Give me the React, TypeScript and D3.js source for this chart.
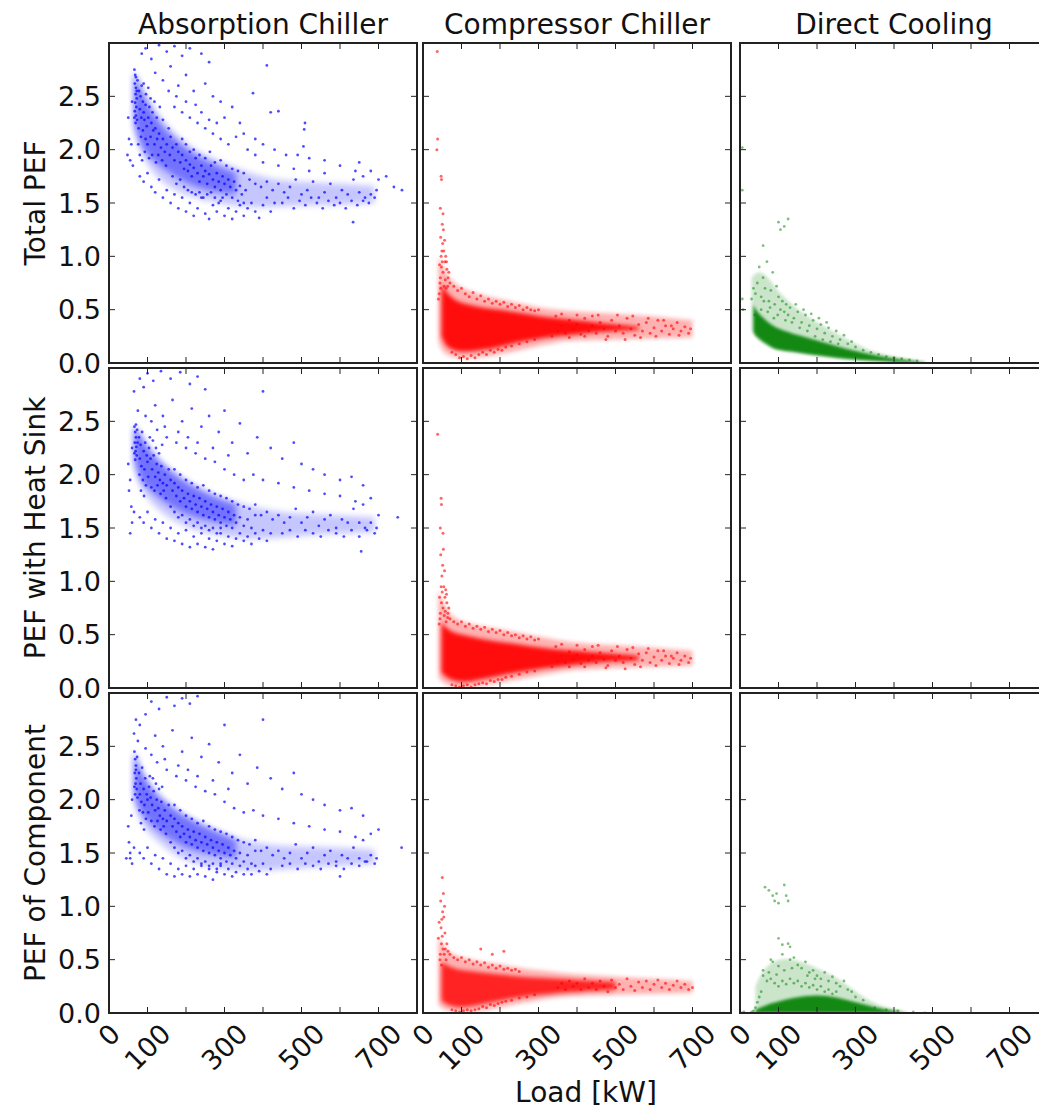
import React from "react";
import * as d3 from "d3";

// ---------- labels ----------
const colTitles = ["Absorption Chiller", "Compressor Chiller", "Direct Cooling"];
const rowLabels = ["Total PEF", "PEF with Heat Sink", "PEF of Component"];
const xTickValues = [100, 200, 300, 400, 500, 600, 700];
const xTickLabels = [0, 100, 300, 500, 700];
const yTickValues = [0.5, 1.0, 1.5, 2.0, 2.5];
const yTickLabels = [0, 0.5, 1.0, 1.5, 2.0, 2.5];
const xDomain = [0, 800];
const yDomain = [0, 3];
const xAxisLabel = "Load [kW]";

// ---------- Absorption chiller (blue) ----------
const absTotal: [number, number][] = [
  [66,2.75],[68,2.7],[67,2.62],[70,2.58],[69,2.52],[72,2.48],[68,2.44],[71,2.4],[67,2.36],[70,2.32],[73,2.28],[69,2.25],[66,2.3],[72,2.55],[74,2.65],[70,2.68],
  [78,2.55],[82,2.5],[85,2.6],[88,2.45],[80,2.38],[90,2.35],[95,2.42],[84,2.3],[92,2.28],[98,2.22],[102,2.3],[105,2.4],[110,2.25],[115,2.18],[108,2.12],[120,2.2],[125,2.1],[118,2.05],[130,2.15],[135,2.02],[140,2.1],[145,1.98],[150,2.05],[88,2.18],[95,2.1],[100,2.05],[83,2.12],[77,2.2],[76,2.05],[80,1.95],[86,1.9],[93,1.98],[104,1.92],[112,1.95],[122,1.88],[128,1.95],[138,1.9],[148,1.85],[113,2.35],[118,2.45],[124,2.3],[96,2.52],[102,2.58],[90,2.62],[108,2.48],[132,2.4],[140,2.28],[155,2.2],[160,2.12],[165,2.02],[158,1.95],[170,1.9],[175,2.05],[180,1.98],[185,1.88],[190,1.95],[195,1.82],[200,1.9],[205,1.8],[210,1.86],[215,1.75],[220,1.83],[225,1.92],[230,1.78],[235,1.7],[240,1.85],[245,1.75],[250,1.8],[255,1.68],[260,1.77],[265,1.85],[270,1.72],[275,1.65],[280,1.78],[285,1.7],[290,1.62],[295,1.75],[300,1.68],[305,1.58],[310,1.72],[315,1.65],[320,1.55],[325,1.7],[330,1.62],[335,1.52],[340,1.66],[345,1.58],[350,1.5],[355,1.62],
  [80,1.75],[90,1.7],[100,1.78],[110,1.65],[120,1.6],[130,1.72],[140,1.55],[150,1.62],[160,1.5],[170,1.58],[180,1.45],[190,1.55],[200,1.42],[210,1.5],[220,1.38],[230,1.45],[240,1.55],[250,1.4],[260,1.35],[270,1.48],[280,1.42],[290,1.52],[300,1.38],[310,1.45],[320,1.35],[330,1.42],[340,1.48],[350,1.38],[360,1.45],[370,1.5],[380,1.42],[390,1.36],[400,1.48],[410,1.55],[420,1.42],[430,1.5],
  [165,1.75],[175,1.68],[185,1.72],[195,1.65],[205,1.62],[215,1.6],[225,1.58],[235,1.6],[245,1.55],[255,1.58],[265,1.6],[275,1.55],[285,1.5],[295,1.55],[190,2.1],[200,2.05],[210,1.98],[220,2.0],[235,1.95],[250,1.92],[262,1.98],[275,1.88],[290,1.9],[305,1.85],[320,1.82],[335,1.8],[350,1.78],[365,1.72],[380,1.68],[395,1.65],[410,1.7],[425,1.62],[440,1.68],[455,1.6],[470,1.65],[485,1.72],[500,1.58],[515,1.62],[530,1.7],[545,1.55],[560,1.6],[575,1.68],[590,1.55],[605,1.62],[620,1.58],[635,1.72],[650,1.6],[665,1.55],[680,1.58],[695,1.62],[450,1.5],[465,1.55],[480,1.45],[495,1.52],[510,1.48],[525,1.55],[540,1.5],[555,1.45],[570,1.52],[585,1.48],[600,1.5],[615,1.45],[630,1.52],[645,1.48],[660,1.52],[675,1.5],[690,1.55],[634,1.32],[660,1.75],[680,1.8],[640,1.8],[700,1.72],[720,1.75],[740,1.65],[761,1.62],[560,1.78],[520,1.8],[480,1.82],[440,1.85],[400,1.88],[380,1.95],[360,2.0],
  [85,2.9],[95,2.95],[110,2.85],[130,2.98],[150,2.92],[170,2.97],[190,2.88],[210,2.95],[240,2.9],[120,2.72],[140,2.65],[160,2.78],[180,2.6],[200,2.7],[220,2.55],[250,2.62],[270,2.5],[290,2.45],[260,2.82],[300,2.3],[320,2.4],[340,2.25],[374,2.53],[410,2.79],[420,2.35],[440,2.36],[507,2.19],[509,2.25],[505,2.03],[330,2.12],[350,2.15],[380,2.1],[400,2.05],[430,2.0],[460,1.95],[490,1.95],[520,1.92],[560,1.9],[600,1.85],[650,1.88],[170,2.4],[190,2.35],[210,2.3],[230,2.25],[250,2.2],[270,2.15],[290,2.1],[310,2.05],[155,2.55],[175,2.5],[200,2.45],[225,2.42],[240,2.35],[260,2.28],[280,2.25],
  [50,2.3],[52,2.1],[48,1.95],[55,1.9],[58,2.05],[60,2.45],[62,1.85],
];
const absHeat: [number, number][] = [
  [66,2.45],[68,2.4],[70,2.35],[67,2.3],[71,2.26],[69,2.22],[72,2.18],[68,2.14],[73,2.42],[70,2.47],[66,2.2],[74,2.3],
  [78,2.35],[82,2.28],[86,2.4],[90,2.22],[80,2.15],[94,2.3],[98,2.18],[84,2.08],[92,2.05],[100,2.12],[104,2.25],[108,2.15],[112,2.05],[116,2.18],[120,1.98],[124,2.1],[128,2.02],[132,1.95],[136,2.08],[140,1.92],[145,2.0],[150,1.9],[88,1.95],[96,1.9],[102,1.98],[110,1.88],[118,1.85],[126,1.9],[134,1.82],[142,1.85],[148,1.78],[79,2.0],[83,1.85],[91,1.8],[106,2.35],[114,2.32],[122,2.25],[130,2.2],[138,2.28],[155,2.05],[160,1.95],[165,1.85],[170,1.92],[175,1.8],[180,1.88],[185,1.75],[190,1.85],[195,1.78],[200,1.7],[205,1.82],[210,1.75],[215,1.68],[220,1.8],[225,1.72],[230,1.65],[235,1.78],[240,1.7],[245,1.62],[250,1.75],[255,1.68],[260,1.6],[265,1.72],[270,1.65],[275,1.58],[280,1.7],[285,1.62],[290,1.55],[295,1.68],[300,1.6],[305,1.52],[310,1.65],[315,1.58],[320,1.5],[325,1.62],[330,1.55],[340,1.6],[350,1.52],[360,1.58],[370,1.5],[380,1.62],
  [55,1.45],[60,1.55],[65,1.65],[80,1.6],[90,1.55],[100,1.65],[110,1.5],[120,1.58],[130,1.45],[140,1.55],[150,1.4],[160,1.5],[170,1.38],[180,1.45],[190,1.35],[200,1.48],[210,1.32],[220,1.42],[230,1.35],[240,1.45],[250,1.32],[260,1.4],[270,1.3],[280,1.38],[290,1.45],[300,1.35],[310,1.42],[320,1.33],[330,1.4],[340,1.45],[350,1.38],[360,1.42],[370,1.35],[380,1.45],[390,1.4],[400,1.48],[410,1.38],[420,1.45],
  [160,1.7],[170,1.65],[180,1.6],[190,1.62],[200,1.55],[210,1.58],[220,1.52],[230,1.55],[240,1.5],[250,1.52],[260,1.48],[270,1.5],[280,1.45],[290,1.5],[170,2.05],[185,2.0],[200,1.95],[215,1.92],[230,1.88],[245,1.9],[260,1.85],[275,1.82],[290,1.8],[305,1.78],[320,1.75],[335,1.72],[350,1.7],[365,1.68],[380,1.72],[395,1.62],[410,1.65],[425,1.58],[440,1.62],[455,1.55],[470,1.6],[485,1.68],[500,1.55],[515,1.6],[530,1.65],[545,1.52],[560,1.58],[575,1.62],[590,1.5],[605,1.58],[620,1.55],[635,1.68],[650,1.55],[665,1.5],[680,1.55],[695,1.5],[450,1.45],[470,1.48],[490,1.42],[510,1.48],[530,1.45],[550,1.42],[570,1.48],[590,1.45],[610,1.42],[630,1.48],[650,1.42],[670,1.48],[690,1.45],[655,1.28],[640,1.75],[660,1.72],[680,1.78],[700,1.62],[750,1.6],[600,1.8],[560,1.82],[520,1.85],[480,1.88],[440,1.92],[400,1.95],[375,2.0],
  [80,2.9],[90,2.82],[100,2.95],[115,2.88],[135,2.97],[160,2.9],[185,2.96],[210,2.85],[230,2.92],[250,2.8],[120,2.65],[140,2.55],[165,2.7],[190,2.5],[215,2.62],[240,2.45],[260,2.55],[285,2.4],[300,2.6],[320,2.3],[340,2.48],[360,2.2],[385,2.35],[400,2.78],[420,2.25],[450,2.15],[480,2.3],[500,2.1],[530,2.05],[560,2.0],[600,1.95],[630,1.98],[660,1.9],[150,2.35],[175,2.3],[200,2.25],[225,2.2],[250,2.15],[275,2.12],[300,2.05],[325,2.0],[350,1.95],[65,2.78],[75,2.6],[95,2.55],[110,2.5],[125,2.42],[145,2.45],[180,2.4],[205,2.35],[230,2.3],[270,2.25],[310,2.18],
  [50,2.1],[52,1.85],[55,1.95],[58,1.7],[60,2.25],
];
const absComp: [number, number][] = [
  [66,2.45],[68,2.38],[70,2.32],[67,2.25],[71,2.2],[69,2.15],[72,2.1],[68,2.05],[73,2.4],[70,2.28],[66,2.12],[74,2.02],
  [78,2.25],[82,2.15],[86,2.3],[90,2.1],[80,2.05],[94,2.2],[98,2.05],[84,1.98],[92,1.95],[100,2.0],[104,2.12],[108,2.02],[112,1.95],[116,2.08],[120,1.9],[124,2.0],[128,1.92],[132,1.85],[136,1.98],[140,1.82],[145,1.9],[150,1.8],[88,1.88],[96,1.82],[102,1.88],[110,1.8],[118,1.75],[126,1.8],[134,1.72],[142,1.75],[148,1.68],[79,1.9],[83,1.78],[91,1.72],[106,2.22],[114,2.2],[122,2.15],[130,2.1],[138,2.12],[155,1.95],[160,1.85],[165,1.75],[170,1.82],[175,1.7],[180,1.78],[185,1.65],[190,1.75],[195,1.68],[200,1.6],[205,1.72],[210,1.65],[215,1.58],[220,1.7],[225,1.62],[230,1.55],[235,1.68],[240,1.6],[245,1.52],[250,1.65],[255,1.58],[260,1.5],[265,1.62],[270,1.55],[275,1.48],[280,1.6],[285,1.52],[290,1.45],[295,1.58],[300,1.5],[305,1.42],[310,1.55],[315,1.48],[320,1.4],[325,1.52],[330,1.45],[340,1.5],[350,1.42],[360,1.48],[370,1.4],[380,1.52],
  [55,1.45],[60,1.4],[65,1.55],[80,1.5],[90,1.45],[100,1.55],[110,1.4],[120,1.48],[130,1.35],[140,1.45],[150,1.3],[160,1.4],[170,1.28],[180,1.35],[190,1.3],[200,1.38],[210,1.28],[220,1.35],[230,1.3],[240,1.38],[250,1.28],[260,1.35],[270,1.25],[280,1.32],[290,1.38],[300,1.3],[310,1.35],[320,1.28],[330,1.32],[340,1.38],[350,1.3],[360,1.35],[370,1.3],[380,1.38],[390,1.33],[400,1.4],[410,1.3],[420,1.35],
  [160,1.6],[170,1.55],[180,1.5],[190,1.52],[200,1.45],[210,1.48],[220,1.42],[230,1.45],[240,1.4],[250,1.42],[260,1.38],[270,1.4],[280,1.35],[290,1.4],[170,1.95],[185,1.9],[200,1.85],[215,1.82],[230,1.78],[245,1.8],[260,1.75],[275,1.72],[290,1.7],[305,1.68],[320,1.65],[335,1.62],[350,1.6],[365,1.58],[380,1.62],[395,1.52],[410,1.55],[425,1.48],[440,1.52],[455,1.45],[470,1.5],[485,1.58],[500,1.45],[515,1.5],[530,1.55],[545,1.42],[560,1.48],[575,1.52],[590,1.42],[605,1.48],[620,1.45],[635,1.55],[650,1.45],[665,1.42],[680,1.48],[695,1.45],[450,1.38],[470,1.4],[490,1.35],[510,1.4],[530,1.38],[550,1.35],[570,1.4],[590,1.38],[610,1.35],[630,1.4],[650,1.38],[670,1.42],[690,1.4],[600,1.28],[640,1.65],[660,1.62],[680,1.68],[700,1.72],[760,1.55],[600,1.7],[560,1.72],[520,1.75],[480,1.78],[440,1.82],[400,1.85],[375,1.9],
  [70,2.75],[80,2.7],[95,2.8],[110,2.92],[130,2.85],[150,2.96],[170,2.88],[190,2.95],[210,2.9],[230,2.97],[120,2.6],[140,2.5],[165,2.65],[190,2.45],[215,2.58],[240,2.4],[260,2.52],[285,2.35],[300,2.7],[320,2.25],[340,2.42],[360,2.15],[385,2.3],[400,2.75],[420,2.2],[450,2.1],[480,2.25],[500,2.05],[530,2.0],[560,1.95],[600,1.9],[630,1.92],[660,1.85],[150,2.28],[175,2.22],[200,2.18],[225,2.12],[250,2.08],[275,2.05],[300,1.98],[325,1.92],[350,1.88],[65,2.62],[75,2.55],[95,2.48],[110,2.42],[125,2.35],[145,2.38],[180,2.32],[205,2.28],[230,2.22],[270,2.18],[310,2.1],
  [50,1.75],[52,1.6],[55,1.5],[58,1.85],[60,2.0],[45,1.45],
];

// ---------- Compressor chiller (red) ----------
const compTotal: [number, number][] = [
  [45,0.8],[48,0.9],[50,0.95],[52,0.85],[47,1.0],[49,1.05],[51,1.12],[46,1.18],[53,1.25],[50,1.3],[44,0.75],[55,0.72],[58,0.78],[60,0.7],[48,1.72],[47,1.75],[45,1.45],[52,1.4],[38,2.1],[36,2.0],[37,2.92],[42,0.65],[40,0.6],[62,0.88],[65,0.8],[57,0.95],[54,1.05],[56,1.15],[43,0.92],[59,1.0],[61,0.95],[46,0.7],[64,0.72],[67,0.85],
  [70,0.75],[80,0.72],[90,0.68],[100,0.7],[110,0.65],[120,0.62],[130,0.66],[140,0.6],[150,0.63],[160,0.58],[170,0.6],[180,0.56],[190,0.58],[200,0.55],[210,0.57],[220,0.53],[230,0.55],[240,0.52],[250,0.54],[260,0.5],[270,0.52],[280,0.5],[290,0.49],[300,0.5],[75,0.1],[85,0.08],[95,0.05],[105,0.06],[115,0.04],[125,0.07],[135,0.05],[145,0.08],[155,0.1],[165,0.08],[175,0.12],[185,0.1],[195,0.13],[205,0.12],[215,0.15],[230,0.16],[250,0.18],[270,0.2],[290,0.22],
  [350,0.3],[360,0.35],[370,0.28],[380,0.4],[390,0.32],[400,0.36],[410,0.27],[420,0.42],[430,0.3],[440,0.35],[450,0.28],[460,0.38],[470,0.32],[480,0.25],[490,0.4],[500,0.3],[510,0.35],[520,0.28],[530,0.42],[540,0.32],[550,0.26],[560,0.36],[570,0.3],[580,0.38],[590,0.28],[600,0.33],[610,0.4],[620,0.3],[630,0.35],[640,0.27],[650,0.32],[660,0.38],[670,0.3],[680,0.34],[690,0.28],[695,0.32],[455,0.45],[475,0.22],[505,0.45],[525,0.22],[545,0.44],[565,0.24],[585,0.42],[605,0.25],[625,0.4],[645,0.35],[665,0.26],[400,0.45],[420,0.25],[440,0.44],[360,0.46],[380,0.24],[345,0.44],[335,0.25],
];
const compHeat: [number, number][] = [
  [45,0.7],[48,0.8],[50,0.9],[52,0.75],[47,0.95],[49,1.05],[51,1.15],[46,1.25],[53,1.3],[44,0.65],[55,0.68],[58,0.72],[60,0.62],[48,1.72],[47,1.78],[45,1.5],[52,1.45],[38,2.38],[42,0.6],[62,0.8],[65,0.7],[57,0.85],[54,0.95],[56,1.1],[43,0.85],[59,0.92],[61,0.88],[64,0.66],[67,0.75],
  [70,0.65],[80,0.62],[90,0.6],[100,0.62],[110,0.58],[120,0.6],[130,0.56],[140,0.58],[150,0.55],[160,0.57],[170,0.53],[180,0.55],[190,0.52],[200,0.54],[210,0.5],[220,0.52],[230,0.49],[240,0.5],[250,0.47],[260,0.49],[270,0.46],[280,0.48],[290,0.45],[300,0.46],[75,0.03],[85,0.02],[95,0.01],[105,0.02],[115,0.03],[125,0.01],[135,0.03],[145,0.04],[155,0.05],[165,0.04],[175,0.07],[185,0.06],[195,0.08],[205,0.08],[215,0.1],[230,0.11],[250,0.13],[270,0.15],[290,0.16],
  [350,0.25],[360,0.3],[370,0.24],[380,0.34],[390,0.27],[400,0.31],[410,0.23],[420,0.36],[430,0.26],[440,0.3],[450,0.24],[460,0.33],[470,0.27],[480,0.21],[490,0.35],[500,0.26],[510,0.3],[520,0.24],[530,0.36],[540,0.28],[550,0.22],[560,0.32],[570,0.26],[580,0.33],[590,0.24],[600,0.29],[610,0.35],[620,0.26],[630,0.3],[640,0.23],[650,0.28],[660,0.33],[670,0.26],[680,0.3],[690,0.24],[695,0.28],[455,0.4],[475,0.19],[505,0.39],[525,0.18],[545,0.38],[565,0.2],[585,0.37],[605,0.21],[625,0.35],[645,0.3],[665,0.22],[400,0.4],[420,0.2],[440,0.39],[360,0.41],[380,0.2],[345,0.39],[335,0.2],
];
const compComp: [number, number][] = [
  [45,0.55],[48,0.65],[50,0.72],[52,0.6],[47,0.8],[49,0.88],[51,0.95],[46,1.05],[53,1.12],[50,1.27],[44,0.5],[55,0.55],[58,0.6],[60,0.5],[42,0.85],[62,0.65],[65,0.58],[57,0.75],[54,0.9],[56,1.0],[40,0.7],[48,0.45],
  [70,0.55],[80,0.52],[90,0.5],[100,0.52],[110,0.48],[120,0.5],[130,0.46],[140,0.48],[150,0.45],[160,0.47],[170,0.43],[180,0.45],[190,0.42],[200,0.44],[210,0.41],[220,0.42],[230,0.4],[240,0.41],[250,0.39],[75,0.03],[85,0.02],[95,0.01],[105,0.02],[115,0.03],[125,0.02],[135,0.03],[145,0.04],[155,0.06],[165,0.05],[175,0.08],[185,0.07],[195,0.09],[205,0.1],[215,0.11],[230,0.12],[250,0.14],[270,0.15],[290,0.17],[210,0.58],[180,0.55],[150,0.6],
  [350,0.24],[360,0.28],[370,0.22],[380,0.3],[390,0.25],[400,0.28],[410,0.22],[420,0.32],[430,0.24],[440,0.28],[450,0.22],[460,0.3],[470,0.25],[480,0.2],[490,0.31],[500,0.24],[510,0.27],[520,0.22],[530,0.32],[540,0.25],[550,0.21],[560,0.29],[570,0.24],[580,0.3],[590,0.22],[600,0.27],[610,0.31],[620,0.24],[630,0.28],[640,0.22],[650,0.26],[660,0.3],[670,0.24],[680,0.27],[690,0.22],[700,0.24],
];

// ---------- Direct cooling (green) ----------
const directTotal: [number, number][] = [
  [6,2.02],[6,1.62],[60,1.1],[100,1.32],[115,1.28],[125,1.35],[105,1.25],[40,0.65],[45,0.75],[50,0.9],[55,0.62],[60,0.8],[65,0.7],[70,0.95],[75,0.58],[80,0.68],[85,0.85],[90,0.55],[95,0.72],[100,0.62],[105,0.5],[110,0.58],[115,0.48],[120,0.55],[125,0.45],[130,0.52],[140,0.42],[150,0.48],[160,0.38],[170,0.45],[180,0.35],[190,0.4],[200,0.32],[210,0.36],[220,0.28],[230,0.33],[240,0.25],[250,0.3],[260,0.22],[270,0.26],[280,0.18],[290,0.2],[300,0.15],[320,0.12],[340,0.1],[360,0.08],[380,0.06],[400,0.05],[420,0.04],[440,0.03],[460,0.02],[30,0.6],[35,0.7],[38,0.45],[55,0.5],[72,0.48],[88,0.42],[135,0.38],[155,0.33],[175,0.3],[195,0.25],[215,0.22],[235,0.2],[255,0.18],[62,0.58],[78,0.52],[98,0.45],[118,0.4],[145,0.55],[165,0.5],[185,0.46],[205,0.42],[225,0.38],[6,0.6],[8,0.5],
];
const directComp: [number, number][] = [
  [65,1.18],[75,1.15],[85,1.1],[90,1.05],[100,1.03],[95,1.12],[115,1.2],[120,1.1],[125,1.05],[100,0.7],[110,0.64],[125,0.65],[130,0.62],[80,0.5],[85,0.48],[100,0.44],[110,0.55],[130,0.5],[140,0.52],[150,0.45],[160,0.42],[170,0.48],[180,0.38],[190,0.4],[200,0.35],[210,0.32],[220,0.38],[230,0.3],[240,0.34],[250,0.28],[260,0.25],[270,0.3],[280,0.22],[290,0.2],[300,0.15],[320,0.12],[60,0.35],[70,0.3],[80,0.32],[90,0.28],[100,0.25],[110,0.3],[120,0.27],[130,0.32],[140,0.28],[150,0.3],[160,0.25],[170,0.28],[180,0.24],[190,0.26],[200,0.22],[210,0.25],[220,0.2],[230,0.22],[240,0.18],[250,0.2],[55,0.2],[50,0.15],[45,0.1],[40,0.05],[35,0.02],[30,0.01],[5,0.0],[10,0.01],[350,0.05],[380,0.03],[410,0.02],[450,0.01],[480,0.0],[60,0.4],[75,0.38],[95,0.36],[115,0.4],[135,0.42],[175,0.35],[195,0.32],
];

// ---------- dense regions: [load, lower PEF, upper PEF] ----------
const absTotalHalo: [number, number, number][] = [[65,2.2,2.75],[80,2.0,2.62],[100,1.85,2.48],[130,1.72,2.32],[170,1.62,2.15],[220,1.55,2.0],[280,1.5,1.9],[350,1.46,1.8],[420,1.46,1.72],[500,1.48,1.7],[600,1.48,1.68],[690,1.5,1.66]];
const absHeatHalo: [number, number, number][] = [[65,2.08,2.47],[80,1.88,2.4],[100,1.78,2.28],[130,1.66,2.14],[170,1.56,2.02],[220,1.48,1.9],[280,1.43,1.8],[350,1.4,1.72],[420,1.4,1.66],[500,1.43,1.63],[600,1.45,1.62],[690,1.46,1.6]];
const absCompHalo: [number, number, number][] = [[65,1.98,2.47],[80,1.8,2.3],[100,1.7,2.17],[130,1.6,2.04],[170,1.48,1.92],[220,1.4,1.8],[280,1.36,1.7],[350,1.33,1.62],[420,1.34,1.57],[500,1.36,1.56],[600,1.38,1.55],[690,1.4,1.53]];
const compTotalHalo: [number, number, number][] = [[40,0.2,1.0],[50,0.1,0.92],[70,0.06,0.78],[100,0.04,0.7],[150,0.05,0.64],[200,0.08,0.6],[250,0.12,0.56],[300,0.16,0.52],[350,0.2,0.5],[400,0.21,0.48],[500,0.22,0.46],[600,0.23,0.44],[700,0.24,0.4]];
const compHeatHalo: [number, number, number][] = [[40,0.1,0.92],[50,0.05,0.82],[70,0.02,0.68],[100,0.0,0.62],[150,0.02,0.58],[200,0.05,0.55],[250,0.08,0.52],[300,0.12,0.48],[350,0.15,0.45],[400,0.17,0.42],[500,0.19,0.4],[600,0.2,0.38],[700,0.21,0.35]];
const compCompHalo: [number, number, number][] = [[40,0.08,0.72],[50,0.04,0.64],[70,0.02,0.56],[100,0.0,0.52],[150,0.02,0.48],[200,0.05,0.46],[250,0.09,0.42],[300,0.12,0.4],[350,0.15,0.38],[400,0.16,0.36],[500,0.17,0.34],[600,0.18,0.32],[700,0.19,0.3]];
const directTotalHalo: [number, number, number][] = [[30,0.3,0.8],[50,0.2,0.88],[80,0.15,0.78],[100,0.12,0.66],[150,0.1,0.5],[200,0.07,0.38],[250,0.05,0.28],[300,0.03,0.18],[350,0.02,0.1],[400,0.0,0.06],[460,0.0,0.02]];
const directCompHalo: [number, number, number][] = [[40,0,0.25],[60,0,0.42],[100,0,0.52],[150,0,0.5],[200,0,0.42],[250,0,0.34],[300,0,0.2],[350,0,0.08],[420,0,0.02]];
const absTotalCore: [number, number, number][] = [[65,2.25,2.72],[80,2.05,2.6],[100,1.95,2.42],[130,1.85,2.25],[170,1.75,2.1],[220,1.65,1.95],[280,1.6,1.85],[330,1.58,1.78]];
const absHeatCore: [number, number, number][] = [[65,2.15,2.45],[80,1.95,2.38],[100,1.88,2.25],[130,1.78,2.12],[170,1.68,2.0],[220,1.6,1.88],[280,1.55,1.78],[330,1.52,1.72]];
const absCompCore: [number, number, number][] = [[65,2.05,2.45],[80,1.88,2.3],[100,1.8,2.15],[130,1.7,2.02],[170,1.6,1.9],[220,1.52,1.8],[280,1.48,1.7],[330,1.45,1.62]];
const compTotalCore: [number, number, number][] = [[48,0.25,0.75],[60,0.15,0.66],[80,0.12,0.6],[100,0.1,0.56],[150,0.12,0.52],[200,0.15,0.5],[250,0.2,0.47],[300,0.23,0.44],[350,0.25,0.42],[400,0.27,0.4],[450,0.29,0.38],[500,0.3,0.36],[560,0.31,0.34]];
const compHeatCore: [number, number, number][] = [[48,0.15,0.62],[60,0.1,0.56],[80,0.07,0.52],[100,0.05,0.5],[150,0.08,0.46],[200,0.12,0.43],[250,0.15,0.41],[300,0.18,0.38],[350,0.2,0.36],[400,0.22,0.35],[450,0.24,0.33],[500,0.25,0.32],[560,0.26,0.3]];
const compCompCore: [number, number, number][] = [[48,0.12,0.48],[60,0.08,0.45],[80,0.06,0.42],[100,0.05,0.4],[150,0.08,0.38],[200,0.12,0.36],[250,0.15,0.34],[300,0.17,0.33],[350,0.19,0.32],[400,0.2,0.31],[450,0.21,0.3],[500,0.22,0.29]];
const directTotalCore: [number, number, number][] = [[35,0.3,0.55],[40,0.25,0.5],[60,0.2,0.42],[80,0.15,0.36],[100,0.12,0.32],[150,0.1,0.26],[200,0.07,0.21],[250,0.05,0.16],[300,0.03,0.11],[350,0.02,0.07],[400,0.01,0.04],[450,0.0,0.02],[480,0.0,0.01]];
const directCompCore: [number, number, number][] = [[40,0,0.03],[60,0,0.06],[80,0,0.09],[100,0,0.11],[150,0,0.15],[200,0,0.17],[250,0,0.15],[300,0,0.1],[350,0,0.05],[400,0,0.02],[440,0,0.0]];

const BLUE = "#0000ff";
const RED = "#ff0000";
const GREEN = "#008000";

type Env = [number, number, number][];
const NONE: Env = [];

const panelData = [
  [
    { pts: absTotal, halo: absTotalHalo, core: absTotalCore, color: BLUE },
    { pts: compTotal, halo: compTotalHalo, core: compTotalCore, color: RED },
    { pts: directTotal, halo: directTotalHalo, core: directTotalCore, color: GREEN },
  ],
  [
    { pts: absHeat, halo: absHeatHalo, core: absHeatCore, color: BLUE },
    { pts: compHeat, halo: compHeatHalo, core: compHeatCore, color: RED },
    { pts: [] as [number, number][], halo: NONE, core: NONE, color: GREEN },
  ],
  [
    { pts: absComp, halo: absCompHalo, core: absCompCore, color: BLUE },
    { pts: compComp, halo: compCompHalo, core: compCompCore, color: RED },
    { pts: directComp, halo: directCompHalo, core: directCompCore, color: GREEN },
  ],
];

const W = 1039;
const H = 1110;
const colX = [109, 423, 740];
const rowY = [43, 368, 693];
const PW = 308;
const PH = 320;
const FONT = "DejaVu Sans, sans-serif";
const FS = 28;
const FS_TICK = 27;
const TICK = 6;

const styleFor = (color: string, r: number) => {
  if (color === BLUE) return { haloOp: 0.22, coreOp: 0.42, r: 1.4, op: 0.7, blur: 3 };
  if (color === RED) return { haloOp: 0.3, coreOp: r === 2 ? 0.8 : 0.92, r: 1.5, op: 0.6, blur: 2 };
  return { haloOp: 0.2, coreOp: 0.9, r: 1.4, op: 0.5, blur: 1.5 };
};

function Panel({ r, c }: { r: number; c: number }) {
  const x0 = colX[c];
  const y0 = rowY[r];
  const x = d3.scaleLinear().domain(xDomain).range([x0, x0 + PW]);
  const y = d3.scaleLinear().domain(yDomain).range([y0 + PH, y0]);
  const d = panelData[r][c];
  const st = styleFor(d.color, r);
  const area = d3
    .area<[number, number, number]>()
    .x((p) => x(p[0]))
    .y0((p) => y(p[1]))
    .y1((p) => y(p[2]))
    .curve(d3.curveBasis);
  const clipId = `clip-${r}-${c}`;
  const filtId = `blur-${r}-${c}`;
  return (
    <g>
      <defs>
        <clipPath id={clipId}>
          <rect x={x0} y={y0} width={PW} height={PH} />
        </clipPath>
        <filter id={filtId} x="-20%" y="-20%" width="140%" height="140%">
          <feGaussianBlur stdDeviation={st.blur} />
        </filter>
      </defs>
      <rect x={x0} y={y0} width={PW} height={PH} fill="#fff" />
      <g clipPath={`url(#${clipId})`}>
        {d.halo.length > 0 && (
          <path d={area(d.halo) || ""} fill={d.color} opacity={st.haloOp} filter={`url(#${filtId})`} />
        )}
        {d.core.length > 0 && (
          <path d={area(d.core) || ""} fill={d.color} opacity={st.coreOp} filter={`url(#${filtId})`} />
        )}
        {d.pts.map((p, i) => (
          <circle key={i} cx={x(p[0])} cy={y(p[1])} r={st.r} fill={d.color} fillOpacity={st.op} />
        ))}
      </g>
      {xTickValues.map((v) => (
        <g key={"xt" + v} stroke="#222" strokeWidth={1}>
          <line x1={x(v)} x2={x(v)} y1={y0 + PH} y2={y0 + PH - TICK} />
          <line x1={x(v)} x2={x(v)} y1={y0} y2={y0 + TICK} />
        </g>
      ))}
      {yTickValues.map((v) => (
        <g key={"yt" + v} stroke="#222" strokeWidth={1}>
          <line x1={x0} x2={x0 + TICK} y1={y(v)} y2={y(v)} />
          <line x1={x0 + PW} x2={x0 + PW - TICK} y1={y(v)} y2={y(v)} />
        </g>
      ))}
      <rect x={x0} y={y0} width={PW} height={PH} fill="none" stroke="#222" strokeWidth={2} />
      {c === 0 &&
        yTickLabels.map((v) => (
          <text key={"yl" + v} x={x0 - 8} y={y(v)} textAnchor="end" dominantBaseline="central" fontFamily={FONT} fontSize={FS_TICK} fill="#111">
            {d3.format(".1f")(v)}
          </text>
        ))}
      {r === 2 &&
        xTickLabels.map((v) => {
          const s = String(v);
          const w = s.length * 0.636 * FS_TICK;
          const hh = 0.73 * FS_TICK;
          const bb = (w + hh) / Math.SQRT2;
          const cx = x(v);
          const cy = y0 + PH + 9 + bb / 2;
          return (
            <text key={"xl" + v} x={cx} y={cy} textAnchor="middle" dominantBaseline="central" fontFamily={FONT} fontSize={FS_TICK} fill="#111" transform={`rotate(-45 ${cx} ${cy})`}>
              {s}
            </text>
          );
        })}
      {r === 0 && (
        <text x={x0 + PW / 2} y={34} textAnchor="middle" fontFamily={FONT} fontSize={FS} fill="#111">
          {colTitles[c]}
        </text>
      )}
      {c === 0 && (
        <text transform={`translate(45 ${y0 + PH / 2}) rotate(-90)`} textAnchor="middle" fontFamily={FONT} fontSize={FS} fill="#111">
          {rowLabels[r]}
        </text>
      )}
    </g>
  );
}

export default function App() {
  const cells: JSX.Element[] = [];
  for (let r = 0; r < 3; r++) for (let c = 0; c < 3; c++) cells.push(<Panel key={`${r}-${c}`} r={r} c={c} />);
  return (
    <svg width={W} height={H} style={{ position: "absolute", left: 0, top: 0, background: "#fff" }}>
      <rect width={W} height={H} fill="#fff" />
      {cells}
      <text x={586} y={1102} textAnchor="middle" fontFamily={FONT} fontSize={FS} fill="#111">
        {xAxisLabel}
      </text>
    </svg>
  );
}
